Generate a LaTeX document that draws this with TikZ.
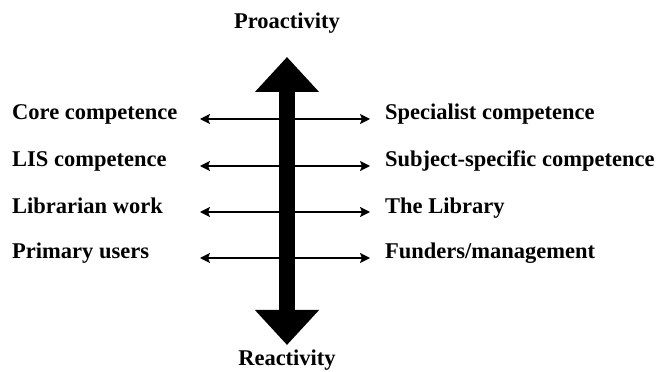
\documentclass[tikz,border=0pt]{standalone}
\usepackage{fontspec}
\setmainfont{Liberation Serif}
\usetikzlibrary{arrows.meta}

\begin{document}
\begin{tikzpicture}[x=1pt, y=1pt, every node/.style = {inner sep=0pt, font=\fontsize{22.5}{24}\selectfont\bfseries},
    leftlabel/.style = {anchor=base west}, rightlabel/.style = {anchor=base west},
    bigarrow/.style = {line width=16pt, {Triangle[length=35pt,width=62pt]}-{Triangle[length=35pt,width=62pt]}},
    sidearrow/.style = {line width=1.3pt, {Stealth[length=10pt,width=10pt,inset=2pt]}-{Stealth[length=10pt,width=10pt,inset=2pt]}}]
    \useasboundingbox (0,0) rectangle (659,372);
    \node (pro) at (287,349) {Proactivity};
    \node (rea) at (287,12) {Reactivity};
    \coordinate (top) at (287,315);
    \coordinate (bot) at (287,27);
    \draw[bigarrow] (bot) -- (top);

    \node[leftlabel] (core) at (12,252) {Core competence};
    \node[leftlabel] (lis) at (12,205) {LIS competence};
    \node[leftlabel] (work) at (12,158) {Librarian work};
    \node[leftlabel] (users) at (12,113) {Primary users};

    \node[rightlabel] (spec) at (385,252) {Specialist competence};
    \node[rightlabel] (subj) at (385,205) {Subject-specific competence};
    \node[rightlabel] (lib) at (385,158) {The Library};
    \node[rightlabel] (fund) at (385,113) {Funders/management};

    \coordinate (core-end) at (200,253);
    \coordinate (spec-end) at (370,253);
    \coordinate (lis-end) at (200,206);
    \coordinate (subj-end) at (370,206);
    \coordinate (work-end) at (200,160);
    \coordinate (lib-end) at (370,160);
    \coordinate (users-end) at (200,114);
    \coordinate (fund-end) at (370,114);
    \draw[sidearrow] (core-end) -- (spec-end);
    \draw[sidearrow] (lis-end) -- (subj-end);
    \draw[sidearrow] (work-end) -- (lib-end);
    \draw[sidearrow] (users-end) -- (fund-end);
\end{tikzpicture}
\end{document}
